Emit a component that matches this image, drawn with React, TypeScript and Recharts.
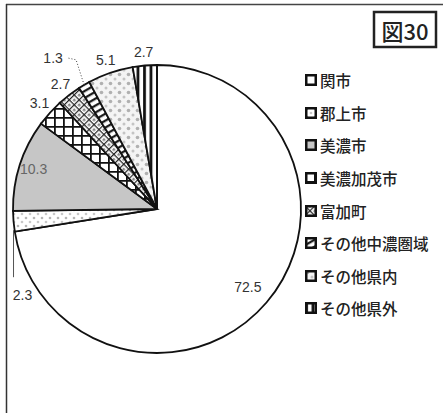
import React from 'react';
import { PieChart, Pie, Cell, Legend } from 'recharts';

// 構成比（%）
const categories = ['関市', '郡上市', '美濃市', '美濃加茂市', '富加町', 'その他中濃圏域', 'その他県内', 'その他県外'];
const shares = [72.5, 2.3, 10.3, 3.1, 2.7, 1.3, 5.1, 2.7];
const valueLabels = ['72.5', '2.3', '10.3', '3.1', '2.7', '1.3', '5.1', '2.7'];

const fills = [
  '#ffffff',
  'url(#pDotsSparse)',
  '#c6c6c6',
  'url(#pGrid)',
  'url(#pChecker)',
  'url(#pHStripes)',
  'url(#pLightDots)',
  'url(#pVStripes)',
];

const data = categories.map((name, i) => ({ name, value: shares[i], label: valueLabels[i] }));

const RAD = Math.PI / 180;
const numFont = '"Liberation Sans", Arial, sans-serif';
const jpFont = '"Noto Sans CJK JP", sans-serif';

function Patterns() {
  return (
    <svg width={0} height={0} style={{ position: 'absolute' }}>
      <defs>
        <pattern id="pDotsSparse" width={8} height={8} patternUnits="userSpaceOnUse">
          <rect width={8} height={8} fill="#fff" />
          <circle cx={2} cy={2} r={1.3} fill="#b5b5b5" />
          <circle cx={6} cy={6} r={1.3} fill="#c8c8c8" />
        </pattern>
        <pattern id="pGrid" width={9} height={9} patternUnits="userSpaceOnUse">
          <rect width={9} height={9} fill="#fff" />
          <path d="M0 0.9H9M0.9 0V9" stroke="#111" strokeWidth={1.8} />
        </pattern>
        <pattern id="pChecker" width={7} height={7} patternUnits="userSpaceOnUse" patternTransform="rotate(45)">
          <rect width={7} height={7} fill="#fff" />
          <path d="M0 0.6H7M0.6 0V7" stroke="#222" strokeWidth={1.2} />
          <rect x={3} y={3} width={2.6} height={2.6} fill="#888" />
        </pattern>
        <pattern id="pHStripes" width={6} height={6} patternUnits="userSpaceOnUse" patternTransform="rotate(-30)">
          <rect width={6} height={6} fill="#fff" />
          <path d="M0 1.2H6" stroke="#111" strokeWidth={2.2} />
        </pattern>
        <pattern id="pLightDots" width={9} height={9} patternUnits="userSpaceOnUse">
          <rect width={9} height={9} fill="#f4f4f4" />
          <circle cx={2.5} cy={2.5} r={1.8} fill="#b0b0b0" />
          <circle cx={7} cy={7} r={1.5} fill="#c4c4c4" />
        </pattern>
        <pattern id="pVStripes" width={6.5} height={6.5} patternUnits="userSpaceOnUse">
          <rect width={6.5} height={6.5} fill="#fff" />
          <path d="M1.5 0V6.5" stroke="#111" strokeWidth={2.8} />
        </pattern>
      </defs>
    </svg>
  );
}

function renderLabel(props: any) {
  const { cx, cy, midAngle, outerRadius, index } = props;
  const text = valueLabels[index];
  const cos = Math.cos(-midAngle * RAD);
  const sin = Math.sin(-midAngle * RAD);
  const common = { fontFamily: numFont, fontSize: 14, fill: '#333' };

  if (index === 0) {
    const r = outerRadius * 0.83;
    return (
      <text x={cx + r * cos} y={cy + r * sin} textAnchor="middle" dominantBaseline="central" {...common}>
        {text}
      </text>
    );
  }
  if (index === 1) {
    const px = cx + outerRadius * cos;
    const py = cy + outerRadius * sin;
    return (
      <g>
        <line x1={px} y1={py + 9} x2={px} y2={py + 56} stroke="#555" strokeWidth={1} />
        <text x={px + 9} y={py + 74} textAnchor="middle" dominantBaseline="central" {...common}>
          {text}
        </text>
      </g>
    );
  }
  if (index === 2) {
    const r = outerRadius * 0.9;
    return (
      <text x={cx + r * cos} y={cy + r * sin} textAnchor="middle" dominantBaseline="central" {...common} fill="#666">
        {text}
      </text>
    );
  }
  if (index === 5) {
    const px = cx + outerRadius * cos;
    const py = cy + outerRadius * sin;
    return (
      <g>
        <polyline
          points={`${px},${py} ${px - 8},${py - 25} ${px - 17},${py - 27}`}
          fill="none"
          stroke="#444"
          strokeWidth={1}
          strokeDasharray="1 2"
        />
        <text x={px - 31} y={py - 27} textAnchor="middle" dominantBaseline="central" {...common}>
          {text}
        </text>
      </g>
    );
  }
  const r = outerRadius + 14;
  return (
    <text x={cx + r * cos} y={cy + r * sin} textAnchor="middle" dominantBaseline="central" {...common}>
      {text}
    </text>
  );
}

function renderLegend() {
  return (
    <div style={{ fontFamily: jpFont, fontSize: 15.5, fontWeight: 500, color: '#222' }}>
      {categories.map((name, i) => (
        <div key={name} style={{ display: 'flex', alignItems: 'center', height: 32.6 }}>
          <svg width={12} height={12} style={{ marginRight: 3 }}>
            <rect x={1.25} y={1.25} width={9.5} height={9.5} fill={fills[i]} stroke="#111" strokeWidth={2.5} />
          </svg>
          <span>{name}</span>
        </div>
      ))}
    </div>
  );
}

export default function App() {
  return (
    <div style={{ position: 'absolute', left: 0, top: 0, width: 443, height: 413, background: '#fff' }}>
      <Patterns />
      <svg width={443} height={413} style={{ position: 'absolute', left: 0, top: 0 }}>
        <line x1={6} y1={4.5} x2={443} y2={4.5} stroke="#444" strokeWidth={1.5} />
        <line x1={6.5} y1={4} x2={6.5} y2={413} stroke="#333" strokeWidth={1.5} />
        <rect x={374} y={12} width={62} height={35} fill="#fff" stroke="#222" strokeWidth={2.5} />
        <text x={405} y={30} textAnchor="middle" dominantBaseline="central" fontFamily={jpFont} fontSize={22} fontWeight={500} fill="#222">
          図30
        </text>
      </svg>
      <div style={{ position: 'absolute', left: 0, top: 0 }}>
        <PieChart width={443} height={413} margin={{ top: 0, right: 0, bottom: 0, left: 0 }}>
          <Pie
            data={data}
            dataKey="value"
            nameKey="name"
            cx={157}
            cy={209}
            outerRadius={144}
            startAngle={90}
            endAngle={-270}
            stroke="#111"
            strokeWidth={1.8}
            label={renderLabel}
            labelLine={false}
            isAnimationActive={false}
          >
            {data.map((entry, index) => (
              <Cell key={`cell-${index}`} fill={fills[index]} />
            ))}
          </Pie>
          <Legend
            layout="vertical"
            align="right"
            verticalAlign="top"
            content={renderLegend}
            wrapperStyle={{ left: 305, top: 64, width: 138 }}
          />
        </PieChart>
      </div>
    </div>
  );
}
